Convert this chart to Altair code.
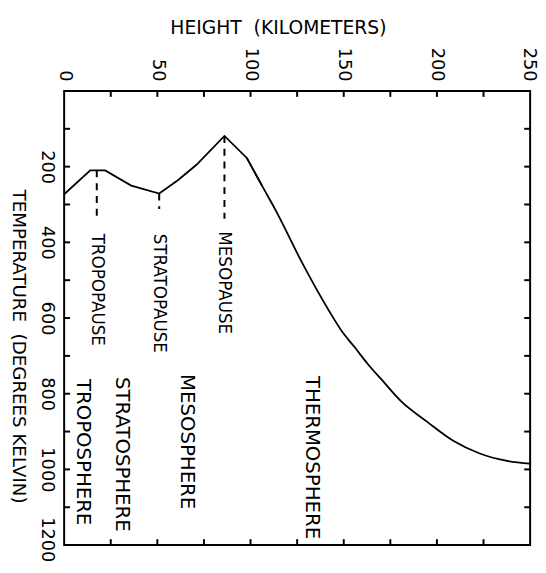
import altair as alt
import pandas as pd

# Temperature profile (height in km, temperature in K)
heights_km = [0, 14, 22, 36, 51, 61, 71, 86, 98, 106, 114, 128, 142, 149, 156, 163, 170, 181, 195, 209, 223, 237, 250]
temps_K = [273, 210, 210, 250, 271, 236, 195, 119, 177, 249, 320, 457, 580, 635, 678, 722, 761, 821, 875, 925, 958, 977, 985]
# segment: 0 = piecewise straight (troposphere..mesopause), 1 = smooth thermosphere curve
segment = [0, 0, 0, 0, 0, 0, 0, 0, 0, 1, 1, 1, 1, 1, 1, 1, 1, 1, 1, 1, 1, 1, 1]

# Pause markers (dashed lines)
pause_names = ["TROPOPAUSE", "STRATOPAUSE", "MESOPAUSE"]
pause_heights = [17.5, 51, 86]
pause_top = [210, 271, 119]
pause_bottom = [332, 312, 338]
pause_label_x = [17.5, 51, 85.6]
pause_label_y = [377, 377, 371]

# Layer names
layer_names = ["TROPOSPHERE", "STRATOSPHERE", "MESOSPHERE", "THERMOSPHERE"]
layer_x = [10, 31, 66, 133]
layer_y = [761, 756, 748, 753]

# Axis ticks
x_label_values = [0, 50, 100, 150, 200, 250]
x_tick_values = [25, 50, 75, 100, 125, 150, 175, 200, 225]
y_label_values = [200, 400, 600, 800, 1000, 1200]
y_tick_values = [100, 200, 300, 400, 500, 600, 700, 800, 900, 1000, 1100]

W, H = 473, 461
FONT = "DejaVu Sans"
NB = "\u00a0"

curve_df = pd.DataFrame({"h": heights_km, "t": temps_K, "seg": segment})
lower_df = curve_df.iloc[:10]
upper_df = curve_df.iloc[8:]
pause_df = pd.DataFrame({"h": pause_heights, "t1": pause_top, "t2": pause_bottom})
pause_lab_df = pd.DataFrame({"h": pause_label_x, "t": pause_label_y, "label": pause_names})
layer_df = pd.DataFrame({"h": layer_x, "t": layer_y, "label": layer_names})
xt_df = pd.DataFrame({"h": x_tick_values})
yt_df = pd.DataFrame({"t": y_tick_values})

xscale = alt.Scale(domain=[0, 250], nice=False, zero=False)
yscale = alt.Scale(domain=[0, 1200], reverse=True, nice=False, zero=False)

x_axis = alt.Axis(
    orient="top", values=x_label_values, ticks=False, domain=False, grid=False, format="d",
    labelAngle=90, labelAlign="right", labelBaseline="middle", labelPadding=10,
    labelOffset=alt.condition("datum.value == 250", alt.value(-2), alt.value(0)),
    labelFont=FONT, labelFontSize=18, labelColor="black",
    title="HEIGHT" + NB + NB + "(KILOMETERS)", titleFont=FONT, titleFontSize=19, titleFontWeight="normal",
    titleColor="black", titleX=217, titleY=-58, titleAlign="center", titleBaseline="alphabetic",
)
y_axis = alt.Axis(
    orient="left", values=y_label_values, ticks=False, domain=False, grid=False, format="d",
    labelAngle=90, labelAlign="center", labelBaseline="top", labelPadding=9,
    labelOffset=alt.condition("datum.value == 1200", alt.value(-6), alt.value(0)),
    labelFont=FONT, labelFontSize=18, labelColor="black",
    title="TEMPERATURE" + NB + NB + "(DEGREES" + NB + "KELVIN)", titleFont=FONT, titleFontSize=18.5,
    titleFontWeight="normal", titleColor="black", titleAngle=90, titleX=-46, titleY=259,
    titleAlign="center", titleBaseline="middle",
)

lower = alt.Chart(lower_df).mark_line(color="black", strokeWidth=1.8).encode(
    x=alt.X("h:Q", scale=xscale, axis=x_axis),
    y=alt.Y("t:Q", scale=yscale, axis=y_axis),
)
upper = alt.Chart(upper_df).mark_line(color="black", strokeWidth=1.8, interpolate="monotone").encode(
    x=alt.X("h:Q", scale=xscale),
    y=alt.Y("t:Q", scale=yscale),
)

dashes = alt.Chart(pause_df).mark_rule(color="black", strokeWidth=2, strokeDash=[7, 6]).encode(
    x=alt.X("h:Q", scale=xscale),
    y=alt.Y("t1:Q", scale=yscale),
    y2="t2:Q",
)

pause_text = alt.Chart(pause_lab_df).mark_text(
    angle=90, align="left", baseline="middle", font=FONT, fontSize=17, color="black"
).encode(
    x=alt.X("h:Q", scale=xscale),
    y=alt.Y("t:Q", scale=yscale),
    text="label:N",
)

layer_text = alt.Chart(layer_df).mark_text(
    angle=90, align="left", baseline="middle", font=FONT, fontSize=20, color="black"
).encode(
    x=alt.X("h:Q", scale=xscale),
    y=alt.Y("t:Q", scale=yscale),
    text="label:N",
)

top_ticks = alt.Chart(xt_df).mark_rule(color="black", strokeWidth=2).encode(
    x=alt.X("h:Q", scale=xscale), y=alt.value(0), y2=alt.value(6)
)
bottom_ticks = alt.Chart(xt_df).mark_rule(color="black", strokeWidth=2).encode(
    x=alt.X("h:Q", scale=xscale), y=alt.value(H), y2=alt.value(H - 6)
)
left_ticks = alt.Chart(yt_df).mark_rule(color="black", strokeWidth=2).encode(
    y=alt.Y("t:Q", scale=yscale), x=alt.value(0), x2=alt.value(6)
)
right_ticks = alt.Chart(yt_df).mark_rule(color="black", strokeWidth=2).encode(
    y=alt.Y("t:Q", scale=yscale), x=alt.value(W), x2=alt.value(W - 6)
)

chart = alt.layer(
    lower, upper, dashes, pause_text, layer_text, top_ticks, bottom_ticks, left_ticks, right_ticks
).properties(
    width=W, height=H,
    autosize=alt.AutoSizeParams(type="none"),
    padding={"left": 57, "top": 80, "right": 8, "bottom": 16},
    background="white",
).configure_view(stroke="black", strokeWidth=2)

chart.save("out.html", embed_options={"renderer": "svg", "actions": False})
